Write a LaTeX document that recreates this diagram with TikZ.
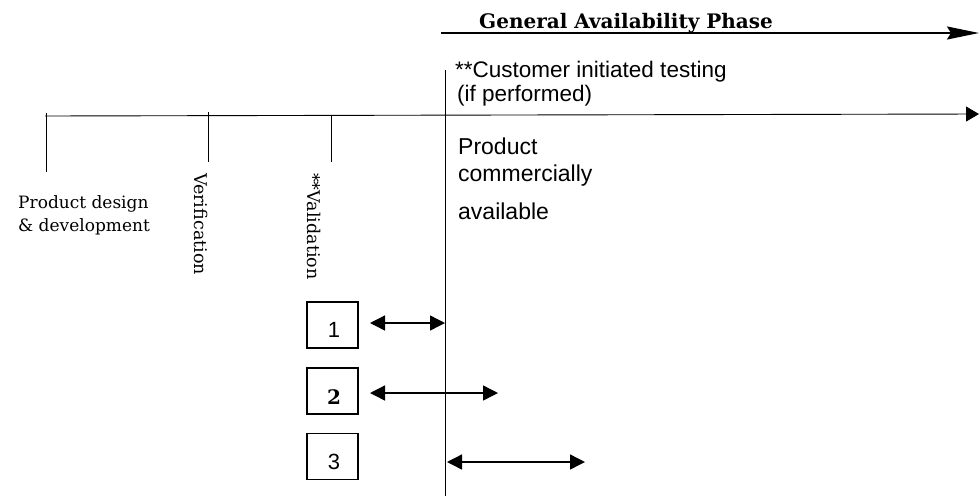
\documentclass[tikz,border=0pt]{standalone}
\usepackage{fontspec}
\setmainfont{DejaVu Serif}
\setsansfont{Liberation Sans}
\usetikzlibrary{arrows.meta}

\tikzset{
  line/.style={draw=black, line width=0.9pt},
  tickmark/.style={draw=black, line width=0.9pt},
  twoway/.style={draw=black, line width=1.4pt, {Triangle[length=15pt,width=15pt]}-{Triangle[length=15pt,width=15pt]}},
  numbox/.style={draw=black, line width=1.2pt, minimum width=51pt, minimum height=46pt, inner sep=0pt},
  sanslabel/.style={font=\sffamily\fontsize{22.5}{26}\selectfont, inner sep=0pt, anchor=base west},
  prodlabel/.style={font=\sffamily\fontsize{23}{26}\selectfont, inner sep=0pt, anchor=base west},
  seriflabel/.style={font=\fontsize{17}{23}\selectfont, inner sep=0pt},
  vertlabel/.style={font=\fontsize{17.5}{20}\selectfont, inner sep=0pt, rotate=-90, anchor=west},
  numlabel/.style={font=\sffamily\fontsize{22}{24}\selectfont, inner sep=0pt},
}

\begin{document}
\begin{tikzpicture}[x=1pt, y=-1pt]
  \useasboundingbox (0,0) rectangle (979,496);

  % phase heading with its arrow
  \coordinate (gaL) at (441,33);
  \coordinate (gaR) at (979,33);
  \draw[line width=2pt, -{Stealth[length=32pt,width=13pt,inset=4pt]}] (gaL) -- (gaR);
  \node[font=\bfseries\fontsize{20}{22}\selectfont, inner sep=0pt, anchor=base west] (ga) at (479,28) {General Availability Phase};

  % main time line
  \coordinate (tlL) at (45,116);
  \coordinate (tlR) at (979,114);
  \draw[line, -{Triangle[length=13pt,width=15pt]}] (tlL) -- (tlR);

  % milestone ticks
  \coordinate (t1a) at (46,113);  \coordinate (t1b) at (46,172);
  \coordinate (t2a) at (208,112); \coordinate (t2b) at (208,162);
  \coordinate (t3a) at (331,116); \coordinate (t3b) at (331,162);
  \draw[tickmark] (t1a) -- (t1b);
  \draw[tickmark] (t2a) -- (t2b);
  \draw[tickmark] (t3a) -- (t3b);

  % commercial release line
  \coordinate (relT) at (445,70);
  \coordinate (relB) at (445,496);
  \draw[line] (relT) -- (relB);

  % stage labels
  \node[seriflabel, align=left, anchor=base west] (design) at (18,231)
    {Product design\\\& development};
  \node[vertlabel] (verif) at (201,173) {Verification};
  \node[vertlabel] (valid) at (314,173) {**Validation};

  % release notes
  \node[sanslabel] (cust1) at (455,77) {**Customer initiated testing};
  \node[sanslabel] (cust2) at (457,101) {(if performed)};
  \node[prodlabel] (prod1) at (458,154) {Product};
  \node[prodlabel] (prod2) at (458,181) {commercially};
  \node[prodlabel] (prod3) at (458,219) {available};

  % numbered cases
  \node[numbox] (b1) at (332.5,325) {};
  \node[numbox] (b2) at (332.5,391) {};
  \node[numbox] (b3) at (332.5,456.5) {};
  \node[numlabel] (n1) at (334,330) {1};
  \node[font=\bfseries\fontsize{20}{24}\selectfont, inner sep=0pt] (n2) at (334,397) {2};
  \node[numlabel] (n3) at (334,462) {3};

  % case spans
  \coordinate (a1s) at (370,323); \coordinate (a1e) at (445,323);
  \coordinate (a2s) at (370,393); \coordinate (a2e) at (498,393);
  \coordinate (a3s) at (447,462); \coordinate (a3e) at (585,462);
  \draw[twoway] (a1s) -- (a1e);
  \draw[twoway] (a2s) -- (a2e);
  \draw[twoway] (a3s) -- (a3e);
\end{tikzpicture}
\end{document}
